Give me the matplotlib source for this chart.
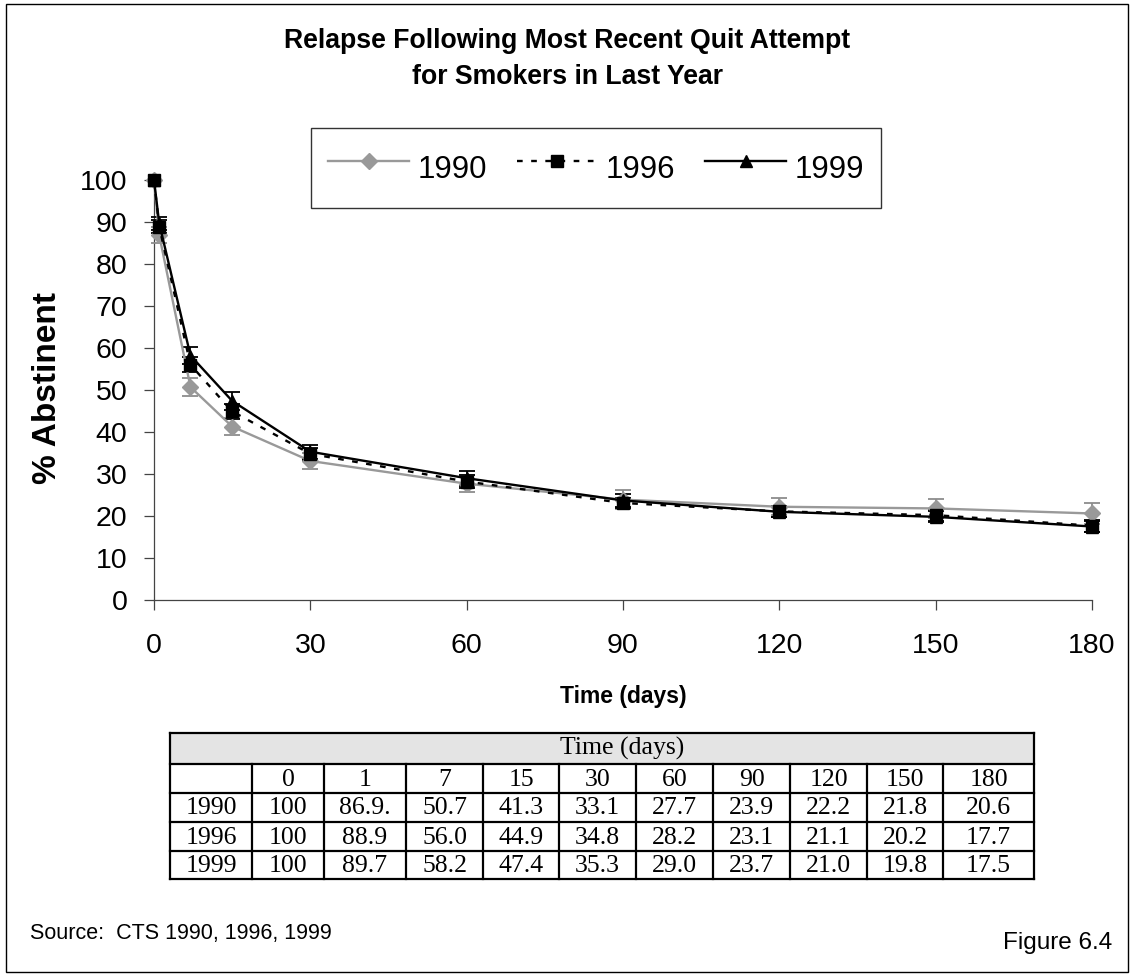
import matplotlib
matplotlib.use("Agg")
import matplotlib.pyplot as plt
from matplotlib.patches import Rectangle

# ---- data -------------------------------------------------------------
days = [0, 1, 7, 15, 30, 60, 90, 120, 150, 180]
years = ["1990", "1996", "1999"]

abst_1990 = [100, 86.9, 50.7, 41.3, 33.1, 27.7, 23.9, 22.2, 21.8, 20.6]
abst_1996 = [100, 88.9, 56.0, 44.9, 34.8, 28.2, 23.1, 21.1, 20.2, 17.7]
abst_1999 = [100, 89.7, 58.2, 47.4, 35.3, 29.0, 23.7, 21.0, 19.8, 17.5]

err_1990 = [0, 2.0, 2.2, 2.1, 2.0, 2.1, 2.3, 2.0, 2.2, 2.4]
err_1996 = [0, 1.6, 1.8, 1.8, 1.5, 1.5, 1.3, 1.3, 1.3, 1.4]
err_1999 = [0, 1.5, 2.0, 2.1, 1.7, 1.8, 1.6, 1.3, 1.3, 1.3]

x_ticks = [0, 30, 60, 90, 120, 150, 180]
y_ticks = list(range(0, 101, 10))

title = "Relapse Following Most Recent Quit Attempt\nfor Smokers in Last Year"
source_note = "Source:  CTS 1990, 1996, 1999"
figure_tag = "Figure 6.4"

# ---- figure -------------------------------------------------------------
W, H = 1131, 976
plt.rcParams["font.family"] = ["Liberation Sans", "DejaVu Sans"]
fig = plt.figure(figsize=(W / 100, H / 100), dpi=100)

# background layer in pixel coordinates for frame, titles and table
bg = fig.add_axes([0, 0, 1, 1], zorder=0)
bg.set_xlim(0, W)
bg.set_ylim(H, 0)
bg.axis("off")

bg.add_patch(Rectangle((6, 4), 1122, 968, fill=False, ec="black", lw=1.0))

bg.text(567, 59, title, ha="center", va="center", fontsize=19.2,
        fontweight="bold", linespacing=1.5)

# main plot area
ax_left, ax_right = 154, 1092
ax_top, ax_bottom = 180, 600
ax = fig.add_axes([ax_left / W, 1 - ax_bottom / H,
                   (ax_right - ax_left) / W, (ax_bottom - ax_top) / H], zorder=2)
ax.set_facecolor("none")

styles = [
    dict(color="#999999", marker="D", ms=8.5, ls="-", ecolor="#8c8c8c"),
    dict(color="black", marker="s", ms=8, ls=(0, (2.4, 3.6)), ecolor="black"),
    dict(color="black", marker="^", ms=8.5, ls="-", ecolor="black"),
]
series = [abst_1990, abst_1996, abst_1999]
errors = [err_1990, err_1996, err_1999]

handles = []
for vals, errs, st, lab in zip(series, errors, styles, years):
    ax.errorbar(days[1:], vals[1:], yerr=errs[1:], fmt="none",
                ecolor=st["ecolor"], elinewidth=1.3, capsize=5.5,
                capthick=1.3, clip_on=False, zorder=3)
    ln, = ax.plot(days, vals, color=st["color"], lw=1.7, ls=st["ls"],
                  marker=st["marker"], ms=st["ms"], mfc=st["color"],
                  mec=st["color"], clip_on=False, zorder=4)
    handles.append(ln)

ax.set_xlim(0, 180)
ax.set_ylim(0, 100)
ax.set_xticks(x_ticks)
ax.set_yticks(y_ticks)
for side in ("top", "right"):
    ax.spines[side].set_visible(False)
for side in ("left", "bottom"):
    ax.spines[side].set_color("#444444")
    ax.spines[side].set_linewidth(0.9)
ax.tick_params(axis="both", direction="out", length=7, width=0.9,
               color="#444444", labelsize=20.5)
ax.tick_params(axis="x", pad=17)
ax.tick_params(axis="y", pad=12)

bg.text(623, 697, "Time (days)", ha="center", va="center",
        fontsize=16.5, fontweight="bold")
bg.text(48, 388, "% Abstinent", ha="center", va="center", rotation=90,
        fontsize=24, fontweight="bold")

leg = fig.legend(handles, years, ncol=3, loc="center",
                 bbox_to_anchor=(596 / W, 1 - 168 / H), fontsize=22.5,
                 frameon=True, fancybox=False, edgecolor="black",
                 handlelength=2.6, handleheight=1.9, handletextpad=0.26,
                 columnspacing=0.95, borderpad=0.55)
leg.get_frame().set_linewidth(1.0)

# ---- data table beneath the plot -------------------------------------
col_edges = [170, 252, 324, 406, 483, 559, 636, 713, 790, 867, 943, 1034]
row_edges = [733, 764, 793, 822, 851, 879]
serif = ["Liberation Serif", "DejaVu Serif"]
tfs = 18.5

bg.add_patch(Rectangle((col_edges[0], row_edges[0]),
                       col_edges[-1] - col_edges[0], row_edges[1] - row_edges[0],
                       fc="#e4e4e4", ec="none"))
bg.text(622, (row_edges[0] + row_edges[1]) / 2, "Time (days)", ha="center",
        va="center", fontsize=tfs, family=serif)

lw_t = 1.6
# horizontal rules
for y in row_edges:
    bg.plot([col_edges[0], col_edges[-1]], [y, y], color="black", lw=lw_t,
            solid_capstyle="projecting")
# vertical rules (full height for outer edges, below header for inner)
for i, x in enumerate(col_edges):
    top = row_edges[0] if i in (0, len(col_edges) - 1) else row_edges[1]
    bg.plot([x, x], [top, row_edges[-1]], color="black", lw=lw_t,
            solid_capstyle="projecting")


def fmt(v):
    return "100" if v == 100 else f"{v:.1f}"


cells = [[""] + [str(d) for d in days]]
for lab, vals in zip(years, series):
    cells.append([lab] + [fmt(v) for v in vals])
cells[1][2] = cells[1][2] + "."   # as printed in the survey table

for r, row in enumerate(cells):
    yc = (row_edges[r + 1] + row_edges[r + 2]) / 2
    for c, txt in enumerate(row):
        xc = (col_edges[c] + col_edges[c + 1]) / 2
        bg.text(xc, yc + 1, txt, ha="center", va="center", fontsize=tfs,
                family=serif)

bg.text(30, 933, source_note, ha="left", va="center", fontsize=15.5)
bg.text(1112, 943, figure_tag, ha="right", va="center", fontsize=17.5)

fig.savefig("out.png", dpi=100, facecolor="white")
